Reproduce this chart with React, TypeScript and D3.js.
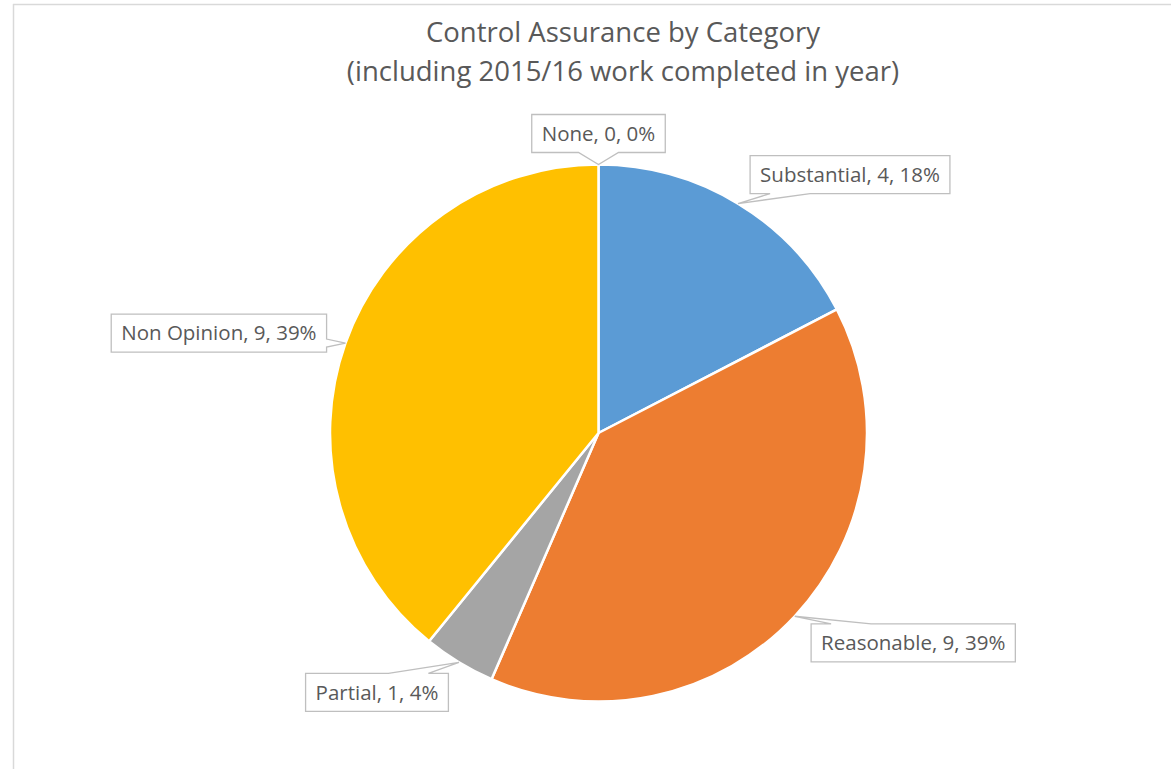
import React, { useEffect, useRef } from "react";
import * as d3 from "d3";

const categories = ["Substantial", "Reasonable", "Partial", "Non Opinion", "None"];
const values = [4, 9, 1, 9, 0];
const percentLabels = ["18%", "39%", "4%", "39%", "0%"];
const colors = ["#5B9BD5", "#ED7D31", "#A5A5A5", "#FFC000", "#4472C4"];
const titleLines = ["Control Assurance by Category", "(including 2015/16 work completed in year)"];
// label box centre offsets relative to the leader tip (layout)
const labelOffsets: [number, number][] = [
  [112, -29],
  [118.5, 26.6],
  [-82, 30],
  [-126.6, -10],
  [0, -31],
];

const W = 1171;
const H = 769;
const CX = 598.5;
const CY = 433;
const R = 268.5;
const FONT = "'Open Sans', 'Noto Sans', sans-serif";

export default function App() {
  const ref = useRef<SVGSVGElement | null>(null);

  useEffect(() => {
    const svg = d3.select(ref.current);
    svg.selectAll("*").remove();

    svg.append("rect").attr("width", W).attr("height", H).attr("fill", "#ffffff");
    // chart frame
    svg.append("line").attr("x1", 13).attr("x2", W).attr("y1", 4.5).attr("y2", 4.5)
      .attr("stroke", "#d9d9d9").attr("stroke-width", 1.5);
    svg.append("line").attr("x1", 13.5).attr("x2", 13.5).attr("y1", 4).attr("y2", H)
      .attr("stroke", "#d9d9d9").attr("stroke-width", 1.5);

    // title
    const titleY = [42, 81];
    titleLines.forEach((t, i) => {
      svg.append("text").attr("x", 623).attr("y", titleY[i]).attr("text-anchor", "middle")
        .attr("font-family", FONT).attr("font-size", 27.5).attr("fill", "#595959").text(t);
    });

    const data = categories.map((c, i) => ({ c, v: values[i], p: percentLabels[i], color: colors[i], i }));
    const pie = d3.pie<any>().value((d: any) => d.v).sort(null).startAngle(0).endAngle(2 * Math.PI);
    const arcs = pie(data);
    const arc = d3.arc<any>().innerRadius(0).outerRadius(R);

    const g = svg.append("g").attr("transform", `translate(${CX},${CY})`);
    g.selectAll("path.slice").data(arcs.filter((a) => a.data.v > 0)).enter().append("path")
      .attr("class", "slice")
      .attr("d", arc as any)
      .attr("fill", (d: any) => d.data.color)
      .attr("stroke", "#ffffff").attr("stroke-width", 2.5).attr("stroke-linejoin", "round");

    // callout labels
    arcs.forEach((a: any, i: number) => {
      const mid = (a.startAngle + a.endAngle) / 2;
      const tx = CX + R * Math.sin(mid);
      const ty = CY - R * Math.cos(mid);
      const [ox, oy] = labelOffsets[i];
      const bx = tx + ox;
      const by = ty + oy;
      const label = `${a.data.c}, ${a.data.v}, ${a.data.p}`;

      const lg = svg.append("g");
      const path = lg.append("path");
      const text = lg.append("text").attr("font-family", FONT).attr("font-size", 20.5)
        .attr("fill", "#595959").attr("text-anchor", "middle").attr("x", bx).attr("y", by + 7.3)
        .text(label);
      const tw = (text.node() as SVGTextElement).getComputedTextLength();
      const bw = tw + 20;
      const bh = 38;
      const L = bx - bw / 2, Rr = bx + bw / 2, T = by - bh / 2, B = by + bh / 2;
      const clamp = (v: number, lo: number, hi: number) => Math.max(lo, Math.min(hi, v));
      let edge: string;
      if (ty > B) edge = "bottom";
      else if (ty < T) edge = "top";
      else if (tx < L) edge = "left";
      else edge = "right";
      const hc = clamp(tx, L + 40, Rr - 40);
      const vc = clamp(ty, T + 5, B - 5);
      const p = d3.path();
      p.moveTo(L, T);
      if (edge === "top") { p.lineTo(hc - 20, T); p.lineTo(tx, ty); p.lineTo(hc + 20, T); }
      p.lineTo(Rr, T);
      if (edge === "right") { p.lineTo(Rr, vc - 4); p.lineTo(tx, ty); p.lineTo(Rr, vc + 4); }
      p.lineTo(Rr, B);
      if (edge === "bottom") { p.lineTo(hc + 20, B); p.lineTo(tx, ty); p.lineTo(hc - 20, B); }
      p.lineTo(L, B);
      if (edge === "left") { p.lineTo(L, vc + 4); p.lineTo(tx, ty); p.lineTo(L, vc - 4); }
      p.closePath();
      path.attr("d", p.toString()).attr("fill", "#ffffff").attr("stroke", "#bfbfbf")
        .attr("stroke-width", 1.3);
    });
  }, []);

  return (
    <svg ref={ref} width={W} height={H} style={{ position: "absolute", left: 0, top: 0, display: "block" }} />
  );
}
